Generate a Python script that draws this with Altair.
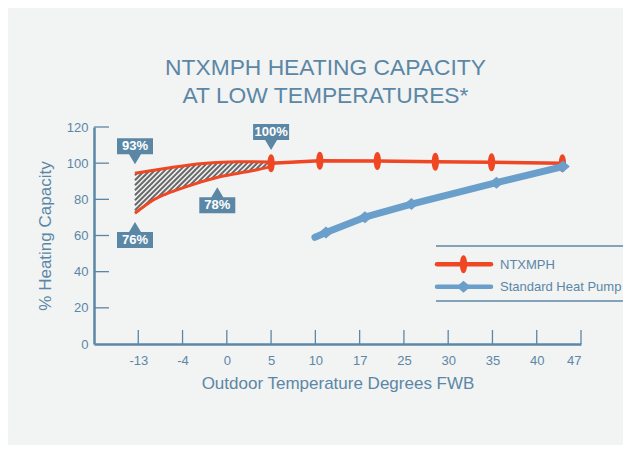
import altair as alt
import pandas as pd
import numpy as np

FONT = "Liberation Sans"
AXIS_COLOR = "#5b87a6"
RED = "#ef4623"
BLUE = "#6a9fcb"
BG = "#f2f3f3"
HATCH = "#686868"

TITLE = ["NTXMPH HEATING CAPACITY", "AT LOW TEMPERATURES*"]
X_TITLE = "Outdoor Temperature Degrees FWB"
Y_TITLE = "% Heating Capacity"
# x axis: evenly spaced temperature positions (position 0 = axis origin)
TEMP_LABELS = ["", "-13", "-4", "0", "5", "10", "17", "25", "30", "35", "40", "47"]
Y_TICKS = [0, 20, 40, 60, 80, 100, 120]

# NTXMPH line (x = axis position, y = % heating capacity)
NTX_X = [4.0, 5.10, 6.40, 7.71, 8.98, 10.58]
NTX_Y = [99.9, 101.4, 101.2, 100.8, 100.5, 99.9]
# low-temperature band: upper (93%) and lower (76%) edges
UP_X = [0.925, 1.716, 2.467, 3.22, 4.0]
UP_Y = [94.4, 97.5, 99.8, 100.8, 100.6]
LO_X = [0.925, 1.34, 2.09, 2.84, 3.6, 4.0]
LO_Y = [72.3, 79.6, 87.0, 92.5, 95.9, 98.1]
# Standard heat pump
STD_X = [4.99, 5.24, 6.12, 7.17, 9.09, 10.59]
STD_Y = [59.0, 61.6, 70.1, 77.4, 89.2, 98.1]
STD_MARK = [False, True, True, True, True, True]

# callouts
CALL_TEXT = ["93%", "76%", "78%", "100%"]
CALL_X = [0.926, 0.926, 2.785, 4.0]
CALL_Y = [99.4, 67.5, 86.7, 107.3]
CALL_DIR = ["down", "up", "up", "down"]

SERIES = ["NTXMPH", "Standard Heat Pump"]
SERIES_COLORS = [RED, BLUE]

W, H = 487, 217
XMAX, YMAX = 11, 120

ELLIPSE = "M0,-9 C4.8,-9 4.8,9 0,9 C-4.8,9 -4.8,-9 0,-9 Z"
DIAMOND = "M-7,0 L0,-6 L7,0 L0,6 Z"
CALL_DOWN = "M0,0 L-6,-10 L-18,-10 L-18,-26 L18,-26 L18,-10 L6,-10 Z"
CALL_UP = "M0,0 L-6,10 L-18,10 L-18,26 L18,26 L18,10 L6,10 Z"

XS = alt.Scale(domain=[0, XMAX], nice=False, zero=False)
YS = alt.Scale(domain=[0, YMAX], nice=False, zero=False)
label_arr = "[" + ",".join("'%s'" % t for t in TEMP_LABELS) + "]"
XAXIS = alt.Axis(values=list(range(1, len(TEMP_LABELS))), labelExpr=label_arr + "[datum.value]",
                 ticks=False, grid=False, domainColor=AXIS_COLOR, domainWidth=2.5,
                 labelColor=AXIS_COLOR, labelFont=FONT, labelFontSize=13, labelPadding=10,
                 title=X_TITLE, titleFont=FONT, titleFontSize=17, titleColor=AXIS_COLOR,
                 titleFontWeight="normal", titlePadding=8)
YAXIS = alt.Axis(values=Y_TICKS, ticks=False, grid=False, domainColor=AXIS_COLOR, domainWidth=2.5,
                 labelColor=AXIS_COLOR, labelFont=FONT, labelFontSize=13, labelPadding=6,
                 title=Y_TITLE, titleFont=FONT, titleFontSize=17, titleColor=AXIS_COLOR,
                 titleFontWeight="normal", titlePadding=12)


def X(f):
    return alt.X(f, type="quantitative", scale=XS, axis=XAXIS)


def Y(f):
    return alt.Y(f, type="quantitative", scale=YS, axis=YAXIS)


# --- hatch between band edges (computed from the band curves) ---
def to_px(x, y):
    return np.asarray(x) * W / XMAX, H - np.asarray(y) * H / YMAX


ux, uy = to_px(UP_X, UP_Y)
lx, ly = to_px(LO_X, LO_Y)
xs = np.linspace(max(ux[0], lx[0]), min(ux[-1], lx[-1]), 4000)
U = np.interp(xs, ux, uy)
L = np.interp(xs, lx, ly)
segs = []
for c in np.arange((xs + U).min() + 2, (xs + L).max(), 5.0):
    yl = c - xs
    inside = (yl >= U) & (yl <= L)
    if inside.sum() < 2:
        continue
    xa, xb = xs[inside][0], xs[inside][-1]
    segs.append({"x": xa * XMAX / W, "y": (H - (c - xa)) * YMAX / H,
                 "x2": xb * XMAX / W, "y2": (H - (c - xb)) * YMAX / H})
hatch_df = pd.DataFrame(segs)

hatch = alt.Chart(hatch_df).mark_rule(color=HATCH, strokeWidth=2).encode(
    x=X("x"), y=Y("y"), x2=alt.X2("x2"), y2=alt.Y2("y2"))

band_df = pd.concat([
    pd.DataFrame({"x": UP_X, "y": UP_Y, "edge": "upper"}),
    pd.DataFrame({"x": LO_X, "y": LO_Y, "edge": "lower"}),
])
band = alt.Chart(band_df).mark_line(color=RED, strokeWidth=3, interpolate="monotone").encode(
    x=X("x"), y=Y("y"), detail="edge:N")

ntx_df = pd.DataFrame({"x": NTX_X, "y": NTX_Y})
ntx_line = alt.Chart(ntx_df).mark_line(color=RED, strokeWidth=3.5).encode(x=X("x"), y=Y("y"))
ntx_pts = alt.Chart(ntx_df).mark_point(shape=ELLIPSE, size=4, filled=True, color=RED,
                                       opacity=1, strokeWidth=0).encode(x=X("x"), y=Y("y"))

std_df = pd.DataFrame({"x": STD_X, "y": STD_Y, "m": STD_MARK})
std_line = alt.Chart(std_df).mark_line(color=BLUE, strokeWidth=7, strokeCap="round",
                                       strokeJoin="round").encode(x=X("x"), y=Y("y"))
std_pts = alt.Chart(std_df).transform_filter("datum.m").mark_point(
    shape=DIAMOND, size=4, filled=True, color=BLUE, opacity=1, strokeWidth=0).encode(x=X("x"), y=Y("y"))

# inward axis ticks
xt_df = pd.DataFrame({"x": list(range(1, len(TEMP_LABELS)))})
xticks = alt.Chart(xt_df).mark_rule(color=AXIS_COLOR, strokeWidth=1.3).encode(
    x=X("x"), y=alt.value(H), y2=alt.value(H - 14))
yt_df = pd.DataFrame({"y": Y_TICKS[1:]})
yticks = alt.Chart(yt_df).mark_rule(color=AXIS_COLOR, strokeWidth=1.3).encode(
    y=Y("y"), x=alt.value(0), x2=alt.value(15))

call_df = pd.DataFrame({"x": CALL_X, "y": CALL_Y, "t": CALL_TEXT, "d": CALL_DIR})
call_layers = []
for d, shape, dy in [("down", CALL_DOWN, -18), ("up", CALL_UP, 18)]:
    base = alt.Chart(call_df).transform_filter(alt.datum.d == d)
    call_layers.append(base.mark_point(shape=shape, size=4, filled=True, color=AXIS_COLOR,
                                       opacity=1, strokeWidth=0).encode(x=X("x"), y=Y("y")))
    call_layers.append(base.mark_text(dy=dy, baseline="middle", align="center", font=FONT,
                                      fontSize=13, fontWeight="bold", color="white").encode(
        x=X("x"), y=Y("y"), text="t:N"))

# legend (drawn by hand, positioned in the plot's pixel frame)
leg = [
    alt.Chart().mark_rule(color=AXIS_COLOR, strokeWidth=1.5).encode(
        x=alt.value(342), x2=alt.value(545), y=alt.value(119)),
    alt.Chart().mark_rule(color=AXIS_COLOR, strokeWidth=1.5).encode(
        x=alt.value(342), x2=alt.value(545), y=alt.value(174)),
]
for i, (name, col, shp) in enumerate(zip(SERIES, SERIES_COLORS, [ELLIPSE, DIAMOND])):
    yy = 137.3 + i * 22.4
    leg.append(alt.Chart().mark_rule(color=col, strokeWidth=4.5, strokeCap="round").encode(
        x=alt.value(343), x2=alt.value(397), y=alt.value(yy)))
    leg.append(alt.Chart().mark_point(shape=shp, size=4, filled=True, color=col, opacity=1,
                                      strokeWidth=0).encode(x=alt.value(369.5), y=alt.value(yy)))
    leg.append(alt.Chart().mark_text(align="left", baseline="middle", font=FONT, fontSize=13,
                                     color=AXIS_COLOR).encode(
        x=alt.value(406), y=alt.value(yy + 0.5), text=alt.value(name)))

chart = alt.layer(hatch, band, ntx_line, ntx_pts, std_line, std_pts, xticks, yticks,
                  *call_layers, *leg).properties(
    width=W, height=H,
    background=BG,
    padding={"left": 86, "top": 119, "right": 42, "bottom": 101},
    autosize=alt.AutoSizeParams(type="none"),
    title=alt.Title(TITLE, font=FONT, fontSize=22.8, fontWeight="normal", color=AXIS_COLOR,
                    lineHeight=28, anchor="middle", dx=-12, offset=13),
).configure_view(strokeOpacity=0)

chart.save("out.html", embed_options={"renderer": "svg", "actions": False})
